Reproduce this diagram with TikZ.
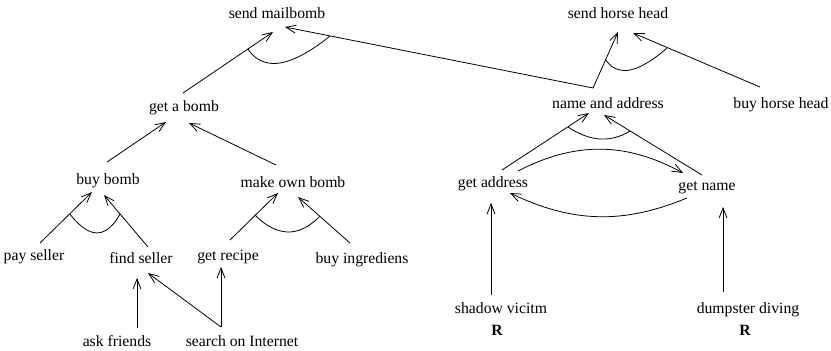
\documentclass[tikz,border=0pt]{standalone}
\usepackage{fontspec}
\setmainfont{Liberation Serif}
\usetikzlibrary{arrows.meta,calc}

\tikzset{
  lbl/.style={anchor=base, inner sep=0pt, font=\fontsize{15.7}{18}\selectfont},
  arr/.style={line width=0.8pt, -{Straight Barb[length=10pt,width=8pt]}},
  andarc/.style={line width=0.8pt},
}

\begin{document}
\begin{tikzpicture}[x=1pt, y=-1pt]
\useasboundingbox (0,0) rectangle (831,351);

% goal nodes (placed by their baselines)
\node[lbl] (smb)   at (277,18)  {send mailbomb};
\node[lbl] (shh)   at (618,18)  {send horse head};
\node[lbl] (gab)   at (184,111) {get a bomb};
\node[lbl] (naa)   at (608,108) {name and address};
\node[lbl] (bhh)   at (781,108) {buy horse head};
\node[lbl] (bb)    at (108,184) {buy bomb};
\node[lbl] (mob)   at (293,187) {make own bomb};
\node[lbl] (gaddr) at (493,187) {get address};
\node[lbl] (gname) at (707,190) {get name};
\node[lbl] (pay)   at (34,260)  {pay seller};
\node[lbl] (find)  at (141,263) {find seller};
\node[lbl] (rec)   at (228,260) {get recipe};
\node[lbl] (ingr)  at (362,263) {buy ingrediens};
\node[lbl] (ask)   at (117,346) {ask friends};
\node[lbl] (srch)  at (242,346) {search on Internet};
\node[lbl] (shad)  at (501,313) {shadow vicitm};
\node[lbl] (dump)  at (748,313) {dumpster diving};
\node[lbl, font=\fontsize{15.7}{18}\selectfont\bfseries] (r1) at (497,335) {R};
\node[lbl, font=\fontsize{15.7}{18}\selectfont\bfseries] (r2) at (745,335) {R};

% refinement edges
\draw[arr] ($(gab.base)+(-1,-18)$) -- ($(smb.base)+(-4,14)$);
\draw[arr] ($(naa.base)+(-15,-20)$) -- ($(smb.base)+(8,9)$);
\draw[arr] ($(naa.base)+(-15,-20)$) -- ($(shh.base)+(0,14)$);
\draw[arr] ($(bhh.base)+(-21,-21)$) -- ($(shh.base)+(15,15)$);

\draw[arr] ($(gaddr.base)+(9,-17)$) -- ($(naa.base)+(-19,5)$);
\draw[arr] ($(gname.base)+(-5,-15)$) -- ($(naa.base)+(-4,7)$);
\draw[arr] ($(gaddr.base)+(25,-16)$) to[bend left=28] ($(gname.base)+(-24,-17)$);
\draw[arr] ($(gname.base)+(-20,8)$) to[bend left=24] ($(gaddr.base)+(17,6)$);
\draw[arr] ($(shad.base)+(-10,-18)$) -- ($(gaddr.base)+(-2,16)$);
\draw[arr] ($(dump.base)+(-25,-21)$) -- ($(gname.base)+(16,17)$);

\draw[arr] ($(bb.base)+(-1,-22)$) -- ($(gab.base)+(-18,11)$);
\draw[arr] ($(mob.base)+(-17,-22)$) -- ($(gab.base)+(5,12)$);
\draw[arr] ($(pay.base)+(6,-17)$) -- ($(bb.base)+(-16,8)$);
\draw[arr] ($(find.base)+(7,-16)$) -- ($(bb.base)+(-4,11)$);
\draw[arr] ($(rec.base)+(2,-20)$) -- ($(mob.base)+(-15,6)$);
\draw[arr] ($(ingr.base)+(-12,-20)$) -- ($(mob.base)+(5,10)$);
\draw[arr] ($(ask.base)+(20,-18)$) -- ($(find.base)+(-4,15)$);
\draw[arr] ($(srch.base)+(-21,-19)$) -- ($(find.base)+(7,10)$);
\draw[arr] ($(srch.base)+(-21,-19)$) -- ($(rec.base)+(-7,7)$);

% AND arcs joining sibling edges
\draw[andarc] plot[smooth, tension=1] coordinates {(248,49) (280,63) (330,36)};
\draw[andarc] plot[smooth, tension=1] coordinates {(606,60) (630,70) (667,48)};
\draw[andarc] plot[smooth, tension=1] coordinates {(568,127) (600,139) (630,131)};
\draw[andarc] plot[smooth, tension=1] coordinates {(70,214) (97,233) (120,214)};
\draw[andarc] plot[smooth, tension=1] coordinates {(255,215) (288,232) (320,216)};
\end{tikzpicture}
\end{document}
